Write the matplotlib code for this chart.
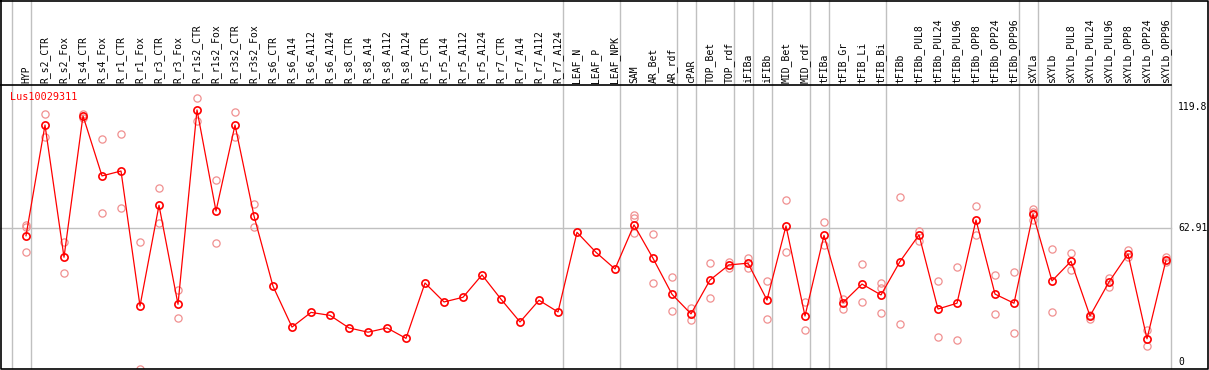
import matplotlib
matplotlib.use('Agg')
import matplotlib.pyplot as plt
from matplotlib.transforms import blended_transform_factory
from matplotlib.lines import Line2D

samples = ['HYP', 'R_s2_CTR', 'R_s2_Fox', 'R_s4_CTR', 'R_s4_Fox', 'R_r1_CTR', 'R_r1_Fox',
           'R_r3_CTR', 'R_r3_Fox', 'R_r1s2_CTR', 'R_r1s2_Fox', 'R_r3s2_CTR', 'R_r3s2_Fox',
           'R_s6_CTR', 'R_s6_A14', 'R_s6_A112', 'R_s6_A124', 'R_s8_CTR', 'R_s8_A14',
           'R_s8_A112', 'R_s8_A124', 'R_r5_CTR', 'R_r5_A14', 'R_r5_A112', 'R_r5_A124',
           'R_r7_CTR', 'R_r7_A14', 'R_r7_A112', 'R_r7_A124', 'LEAF_N', 'LEAF_P', 'LEAF_NPK',
           'SAM', 'AR_Bet', 'AR_rdf', 'cPAR', 'TOP_Bet', 'TOP_rdf', 'iFIBa', 'iFIBb',
           'MID_Bet', 'MID_rdf', 'tFIBa', 'tFIB_Gr', 'tFIB_Li', 'tFIB_Bi', 'tFIBb',
           'tFIBb_PUL8', 'tFIBb_PUL24', 'tFIBb_PUL96', 'tFIBb_OPP8', 'tFIBb_OPP24',
           'tFIBb_OPP96', 'sXYLa', 'sXYLb', 'sXYLb_PUL8', 'sXYLb_PUL24', 'sXYLb_PUL96',
           'sXYLb_OPP8', 'sXYLb_OPP24', 'sXYLb_OPP96']

means = [59.3, 111.3, 49.2, 115.6, 87.4, 89.7, 26.3, 73.6, 27.1, 118.4, 70.9, 111.3, 68.6,
         35.6, 16.4, 23.3, 21.9, 16.0, 14.0, 16.0, 11.1, 37.1, 28.2, 30.4, 40.9, 29.5, 18.8,
         29.0, 23.5, 60.9, 51.5, 43.7, 64.4, 48.7, 31.8, 22.6, 38.5, 45.6, 46.4, 29.1, 63.9,
         21.6, 59.5, 27.9, 36.6, 31.5, 47.2, 59.7, 24.9, 27.6, 66.7, 31.9, 27.6, 69.5, 38.1,
         47.3, 21.6, 37.6, 50.7, 10.9, 47.8]

# replicate values per sample (empty = single measurement)
reps = [[64.4, 63.2, 51.5], [116.3, 105.6], [56.2, 41.8], [116.5, 114.7], [104.6, 69.9],
        [107.0, 72.2], [56.2, -3.4], [81.6, 65.2], [33.7, 20.5], [123.9, 113.2],
        [85.4, 55.8], [117.3, 105.6], [74.1, 63.4],
        [], [], [], [], [], [], [], [], [], [], [], [], [], [], [], [], [], [], [],
        [69.1, 67.8, 60.5], [60.1, 37.1], [39.9, 23.8], [25.2, 19.7], [46.5, 29.9],
        [47.1, 44.0], [49.0, 44.3], [38.1, 20.2], [76.1, 51.5], [28.2, 15.0], [65.8, 55.0],
        [29.6, 24.8], [46.0, 28.2], [37.3, 34.8, 23.0], [77.5, 17.7], [61.7, 57.0],
        [38.1, 11.7], [44.6, 10.3], [73.3, 59.5], [40.9, 22.6], [42.3, 13.6],
        [71.7, 70.6, 66.7], [53.1, 23.5], [51.2, 43.1], [22.2, 20.3], [39.6, 35.2],
        [52.6, 49.2], [15.0, 7.5], [49.2, 46.8]]

# group separators sit after these sample indices
group_ends = [-1, 0, 28, 31, 34, 35, 37, 38, 39, 41, 42, 45, 52, 53, 60]

y_ticks = [0, 62.91, 119.8]
tick_labels = ['0', '62.91', '119.8']
gene = 'Lus10029311'

W, H = 1209, 370
fig = plt.figure(figsize=(W / 100, H / 100), dpi=100)

# plot area in pixels: x 0..1208, y 85..368
ax = fig.add_axes([0, (H - 368) / H, 1208 / W, (368 - 85) / H])
ax.set_xlim(-26 / 19, (1208 - 26) / 19)
ax.set_ylim(-2.82, 130.1)
ax.set_xticks([])
ax.set_yticks([])
for s in ax.spines.values():
    s.set_visible(False)

mono = 'DejaVu Sans Mono'
grey = '#c0c0c0'
tr = blended_transform_factory(ax.transData, fig.transFigure)

for g in group_ends:
    ax.plot([g + 0.25, g + 0.25], [(H - 368) / H, 1], color=grey, lw=1.0,
            transform=tr, clip_on=False, zorder=1)

last = group_ends[-1] + 0.25
ax.plot([-26 / 19, last], [62.91, 62.91], color=grey, lw=1.0, zorder=1)

# black separator under the labels
ax.plot([-26 / 19, last], [(H - 85) / H, (H - 85) / H], color='black', lw=1.2,
        transform=tr, clip_on=False, zorder=3)

for i, name in enumerate(samples):
    ax.text(i, (H - 83) / H, name, transform=tr, rotation=90, ha='center', va='bottom',
            fontsize=7, family=mono, color='black')

xs = list(range(len(samples)))
for i, r in enumerate(reps):
    if r:
        ax.plot([i] * len(r), r, linestyle='none', marker='o', markersize=5.2,
                markerfacecolor='none', markeredgecolor='#f09090', markeredgewidth=0.9,
                zorder=2)

ax.plot(xs, means, color='red', lw=0.9, zorder=4)
ax.plot(xs, means, linestyle='none', marker='o', markersize=5.2, markerfacecolor='none',
        markeredgecolor='red', markeredgewidth=1.2, zorder=5)

for v, t in zip(y_ticks, tick_labels):
    ax.text(1178 / W, v, t, transform=blended_transform_factory(fig.transFigure, ax.transData),
            ha='left', va='center', fontsize=7, family=mono, color='black')

ax.text(10 / W, (H - 97) / H, gene, transform=fig.transFigure, ha='left', va='center',
        fontsize=7.3, family=mono, color='red')

# outer frame
fig.add_artist(Line2D([0.5 / W, (W - 1) / W, (W - 1) / W, 0.5 / W, 0.5 / W],
                      [(H - 0.5) / H, (H - 0.5) / H, (H - 368.5) / H, (H - 368.5) / H, (H - 0.5) / H],
                      color='black', lw=1.2, transform=fig.transFigure))

fig.savefig('out.png', dpi=100)
